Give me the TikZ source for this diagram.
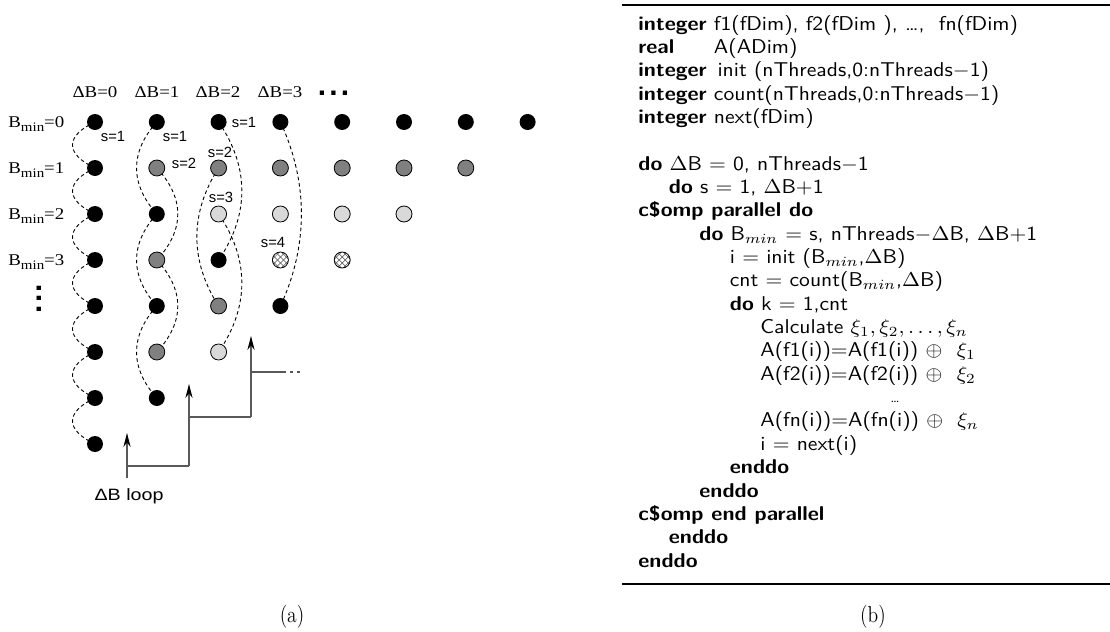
\documentclass[tikz,border=0pt]{standalone}
\usepackage{fontspec}
\usepackage{graphicx}
\usetikzlibrary{arrows.meta,backgrounds}
\newfontfamily\tms{Liberation Serif}
\newfontfamily\hlv{Liberation Sans}
\newcommand{\cx}[1]{\scalebox{1.08}[1]{#1}}
\newcommand{\tx}[1]{\scalebox{1.15}[1]{#1}}
\definecolor{dgray}{HTML}{808080}
\definecolor{lgray}{HTML}{D9D9D9}
\tikzset{
  dotb/.style={circle,fill=black,inner sep=0pt,minimum size=8pt},
  dotg/.style={circle,draw=black,line width=0.4pt,fill=dgray,inner sep=0pt,minimum size=8pt},
  dotl/.style={circle,draw=black,line width=0.4pt,fill=lgray,inner sep=0pt,minimum size=8pt},
  doth/.style={circle,draw=black,line width=0.4pt,fill=white,inner sep=0pt,minimum size=8pt,
     path picture={
       \foreach \k in {-4.4,-1.5,1.5,4.4}{
         \draw[line width=0.25pt,black!70,shift={(path picture bounding box.center)}]
            ({\k*1pt-6pt},-6pt) -- ({\k*1pt+6pt},6pt);
         \draw[line width=0.25pt,black!70,shift={(path picture bounding box.center)}]
            ({\k*1pt-6pt},6pt) -- ({\k*1pt+6pt},-6pt);
       }}},
  dchain/.style={dash pattern=on 1.8pt off 1.4pt,line width=0.45pt},
  hdr/.style={anchor=base,inner sep=0pt,font=\tms\fontsize{8.2}{9}\selectfont},
  rowlab/.style={anchor=base west,inner sep=0pt,font=\tms\fontsize{8.2}{9}\selectfont},
  slab/.style={inner sep=0pt,font=\hlv\fontsize{7.4}{8}\selectfont},
  stair/.style={line width=0.6pt,draw=black!65},
  arrtip/.style={-{Stealth[length=7pt,width=3.6pt,color=black]}},
  codeln/.style={anchor=base west,inner sep=0pt,font=\sffamily\fontsize{10}{12}\selectfont},
  captn/.style={inner sep=0pt,font=\fontsize{11.5}{13}\selectfont},
  hrule/.style={line width=1.3pt}
}
\begin{document}
\begin{tikzpicture}[x=0.5pt,y=-0.5pt]
\useasboundingbox (0,0) rectangle (1110,632);

% ---------- dots ----------
\foreach \c/\r/\s in {0/0/dotb,0/1/dotb,0/2/dotb,0/3/dotb,0/4/dotb,0/5/dotb,0/6/dotb,0/7/dotb,
  1/0/dotb,1/1/dotg,1/2/dotb,1/3/dotg,1/4/dotb,1/5/dotg,1/6/dotb,
  2/0/dotb,2/1/dotg,2/2/dotl,2/3/dotb,2/4/dotg,2/5/dotl,
  3/0/dotb,3/1/dotg,3/2/dotl,3/3/doth,3/4/dotb,
  4/0/dotb,4/1/dotg,4/2/dotl,4/3/doth,
  5/0/dotb,5/1/dotg,5/2/dotl,
  6/0/dotb,6/1/dotg,
  7/0/dotb}
  \node[\s] (d-\c-\r) at ({95+61.8*\c},{122+46*\r}) {};

% ---------- dashed chains ----------
\begin{scope}[on background layer]
\foreach \r [evaluate=\r as \n using int(\r+1)] in {0,...,6}
  \draw[dchain] (d-0-\r.center) .. controls +(-30,14) and +(-30,-14) .. (d-0-\n.center);
\foreach \a/\b in {0/2,2/4,4/6}
  \draw[dchain] (d-1-\a.center) .. controls +(-27,30) and +(-27,-30) .. (d-1-\b.center);
\foreach \a/\b in {1/3,3/5}
  \draw[dchain] (d-1-\a.center) .. controls +(28,30) and +(28,-30) .. (d-1-\b.center);
\draw[dchain] (d-2-0.center) .. controls +(31,45) and +(31,-45) .. (d-2-3.center);
\draw[dchain] (d-2-1.center) .. controls +(-29,45) and +(-29,-45) .. (d-2-4.center);
\draw[dchain] (d-2-2.center) .. controls +(31,45) and +(31,-45) .. (d-2-5.center);
\draw[dchain] (d-3-0.center) .. controls +(28,60) and +(28,-60) .. (d-3-4.center);
\end{scope}

% ---------- headers ----------
\node[hdr] (h0) at (95,97) {\tx{ΔB=0}};
\node[hdr] (h1) at (157,97) {\tx{ΔB=1}};
\node[hdr] (h2) at (218,97) {\tx{ΔB=2}};
\node[hdr] (h3) at (280,97) {\tx{ΔB=3}};
\node[anchor=base,inner sep=0pt,font=\hlv\bfseries\fontsize{15}{15}\selectfont] (hdots) at (333.5,95) {.\hspace{1.6pt}.\hspace{1.6pt}.};

\foreach \r in {0,1,2,3}
  \node[rowlab] (rl\r) at (8,{127+46*\r}) {\tx{B\raisebox{-2pt}{\fontsize{6.5}{7}\selectfont min}=\r}};
\node[rotate=90,anchor=base,inner sep=0pt,font=\hlv\bfseries\fontsize{15}{15}\selectfont] (vdots) at (41,298.5) {.\hspace{1.1pt}.\hspace{1.1pt}.};

% ---------- s labels ----------
\node[slab] (s01) at (113,136) {s=1};
\node[slab] (s11) at (175,136) {s=1};
\node[slab] (s21) at (244,122) {s=1};
\node[slab] (s12) at (184,163) {s=2};
\node[slab] (s22) at (220,152) {s=2};
\node[slab] (s23) at (221,197) {s=3};
\node[slab] (s34) at (273,242) {s=4};

% ---------- Delta B loop stairs ----------
\coordinate (a0) at (127,478);
\coordinate (a1) at (127,433);
\coordinate (h1) at (127,466);
\coordinate (b0) at (189,466);
\coordinate (b1) at (189,384);
\coordinate (h2) at (189,417);
\coordinate (c0) at (251,417);
\coordinate (c1) at (251,336);
\coordinate (h3) at (251,372);
\coordinate (e0) at (283,372);
\coordinate (e1) at (302,372);
\draw[stair,arrtip] (a0) -- (a1);
\draw[stair] (h1) -- (b0);
\draw[stair,arrtip] (b0) -- (b1);
\draw[stair] (h2) -- (c0);
\draw[stair,arrtip] (c0) -- (c1);
\draw[stair] (h3) -- (e0);
\draw[stair,dash pattern=on 1.5pt off 2pt] (e0) -- (e1);
\node[inner sep=0pt,font=\hlv\fontsize{8.2}{9}\selectfont] (loop) at (129,496) {\scalebox{1.2}[1]{ΔB loop}};

% ---------- code panel ----------
\draw[hrule] (622,5) -- (1110,5);
\draw[hrule] (622,584) -- (1110,584);

\node[codeln] (c0l) at (638,30) {\cx{\textbf{integer} f1(fDim), f2(fDim ), \ldots, \ fn(fDim)}};
\node[codeln] (c1l) at (638,53.35) {\cx{\rlap{\bfseries real}\phantom{\bfseries integer} A(ADim)}};
\node[codeln] (c2l) at (638,76.7) {\cx{\textbf{integer} \,init (nThreads,0:nThreads$-$1)}};
\node[codeln] (c3l) at (638,100.05) {\cx{\textbf{integer} count(nThreads,0:nThreads$-$1)}};
\node[codeln] (c4l) at (638,123.4) {\cx{\textbf{integer} next(fDim)}};
\node[codeln] (c6l) at (638,170.1) {\cx{\textbf{do} $\Delta$B $=$ 0, nThreads$-$1}};
\node[codeln] (c7l) at (668.5,193.45) {\cx{\textbf{do} s $=$ 1, $\Delta$B$+$1}};
\node[codeln] (c8l) at (638,216.8) {\cx{\textbf{c\$omp parallel do}}};
\node[codeln] (c9l) at (699,240.15) {\cx{\textbf{do} B$_{min}$ $=$ s, nThreads$-\Delta$B, $\Delta$B$+$1}};
\node[codeln] (c10l) at (729.5,263.5) {\cx{i $=$ init (B$_{min}$,$\Delta$B)}};
\node[codeln] (c11l) at (729.5,286.85) {\cx{cnt $=$ count(B$_{min}$,$\Delta$B)}};
\node[codeln] (c12l) at (729.5,310.2) {\cx{\textbf{do} k $=$ 1,cnt}};
\node[codeln] (c13l) at (760,333.55) {\cx{Calculate $\xi_1, \xi_2, \ldots, \xi_n$}};
\node[codeln] (c14l) at (760,356.9) {\cx{A(f1(i))$=$A(f1(i)) $\oplus$\ \ $\xi_1$}};
\node[codeln] (c15l) at (760,380.25) {\cx{A(f2(i))$=$A(f2(i)) $\oplus$\ \ $\xi_2$}};
\node[anchor=base,inner sep=0pt,font=\sffamily\fontsize{6.5}{7}\selectfont] (c16l) at (895,402) {\cx{\ldots}};
\node[codeln] (c17l) at (760,426.95) {\cx{A(fn(i))$=$A(fn(i)) $\oplus$\ \ $\xi_n$}};
\node[codeln] (c18l) at (760,450.3) {\cx{i $=$ next(i)}};
\node[codeln] (c19l) at (729.5,473.65) {\cx{\textbf{enddo}}};
\node[codeln] (c20l) at (699,497) {\cx{\textbf{enddo}}};
\node[codeln] (c21l) at (638,520.35) {\cx{\textbf{c\$omp end parallel}}};
\node[codeln] (c22l) at (668.5,543.7) {\cx{\textbf{enddo}}};
\node[codeln] (c23l) at (638,567.05) {\cx{\textbf{enddo}}};

% ---------- captions ----------
\node[captn] (capa) at (292,617) {\scalebox{0.85}[1]{(a)}};
\node[captn] (capb) at (873,617) {\scalebox{0.85}[1]{(b)}};
\end{tikzpicture}
\end{document}
